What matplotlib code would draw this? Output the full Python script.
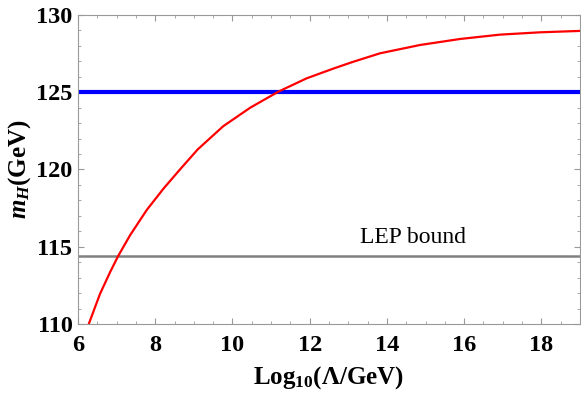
import numpy as np
import matplotlib.pyplot as plt
from matplotlib.ticker import MultipleLocator

plt.rcParams['font.family'] = 'Liberation Serif'
plt.rcParams['mathtext.fontset'] = 'custom'
plt.rcParams['mathtext.rm'] = 'Liberation Serif:bold'
plt.rcParams['mathtext.it'] = 'Liberation Serif:bold:italic'
plt.rcParams['mathtext.bf'] = 'Liberation Serif:bold'

# red curve
log_lambda = [6.27, 6.57, 6.83, 7.04, 7.35, 7.78, 8.21, 8.64, 9.1, 9.76, 10.46, 11.19,
              11.92, 12.6, 13.1, 13.82, 14.86, 15.9, 16.93, 17.97, 19.0]
m_h = [109.94, 111.95, 113.35, 114.4, 115.75, 117.38, 118.75, 120.0, 121.3, 122.8, 124.0, 125.04,
       125.9, 126.52, 126.95, 127.52, 128.06, 128.45, 128.73, 128.88, 128.97]

m_obs = 125.0
m_lep = 114.4

fig = plt.figure(figsize=(5.81, 3.97), dpi=100)
ax = fig.add_axes([78/581, 1-324/397, 502/581, 309/397])

ax.axhline(m_lep, color='#808080', lw=1.8)
ax.axhline(m_obs, color='#0000ff', lw=3)
ax.plot(log_lambda, m_h, color='red', lw=1.6)

ax.text(13.3, 115.24, 'LEP bound', fontsize=17)

ax.set_xlim(6, 19)
ax.set_ylim(110, 130)
ax.xaxis.set_major_locator(MultipleLocator(2))
ax.xaxis.set_minor_locator(MultipleLocator(0.5))
ax.yaxis.set_major_locator(MultipleLocator(5))
ax.yaxis.set_minor_locator(MultipleLocator(1))
ax.tick_params(which='both', direction='in', top=True, right=True, color='#999999')
ax.tick_params(which='major', length=4.5, width=0.8, labelsize=17.5, pad=8)
ax.tick_params(which='minor', length=2.5, width=0.6)
ax.tick_params(axis='y', pad=4)
for lab in ax.get_xticklabels() + ax.get_yticklabels():
    lab.set_fontweight('bold')
for s in ax.spines.values():
    s.set_color('#999999')
    s.set_linewidth(0.8)

ax.set_xlabel(r'Log$_{10}$($\Lambda$/GeV)', fontsize=18, fontweight='bold', labelpad=6)
ax.set_ylabel(r'$m_H$(GeV)', fontsize=18, fontweight='bold', labelpad=2)

fig.savefig('out.png', dpi=100)
